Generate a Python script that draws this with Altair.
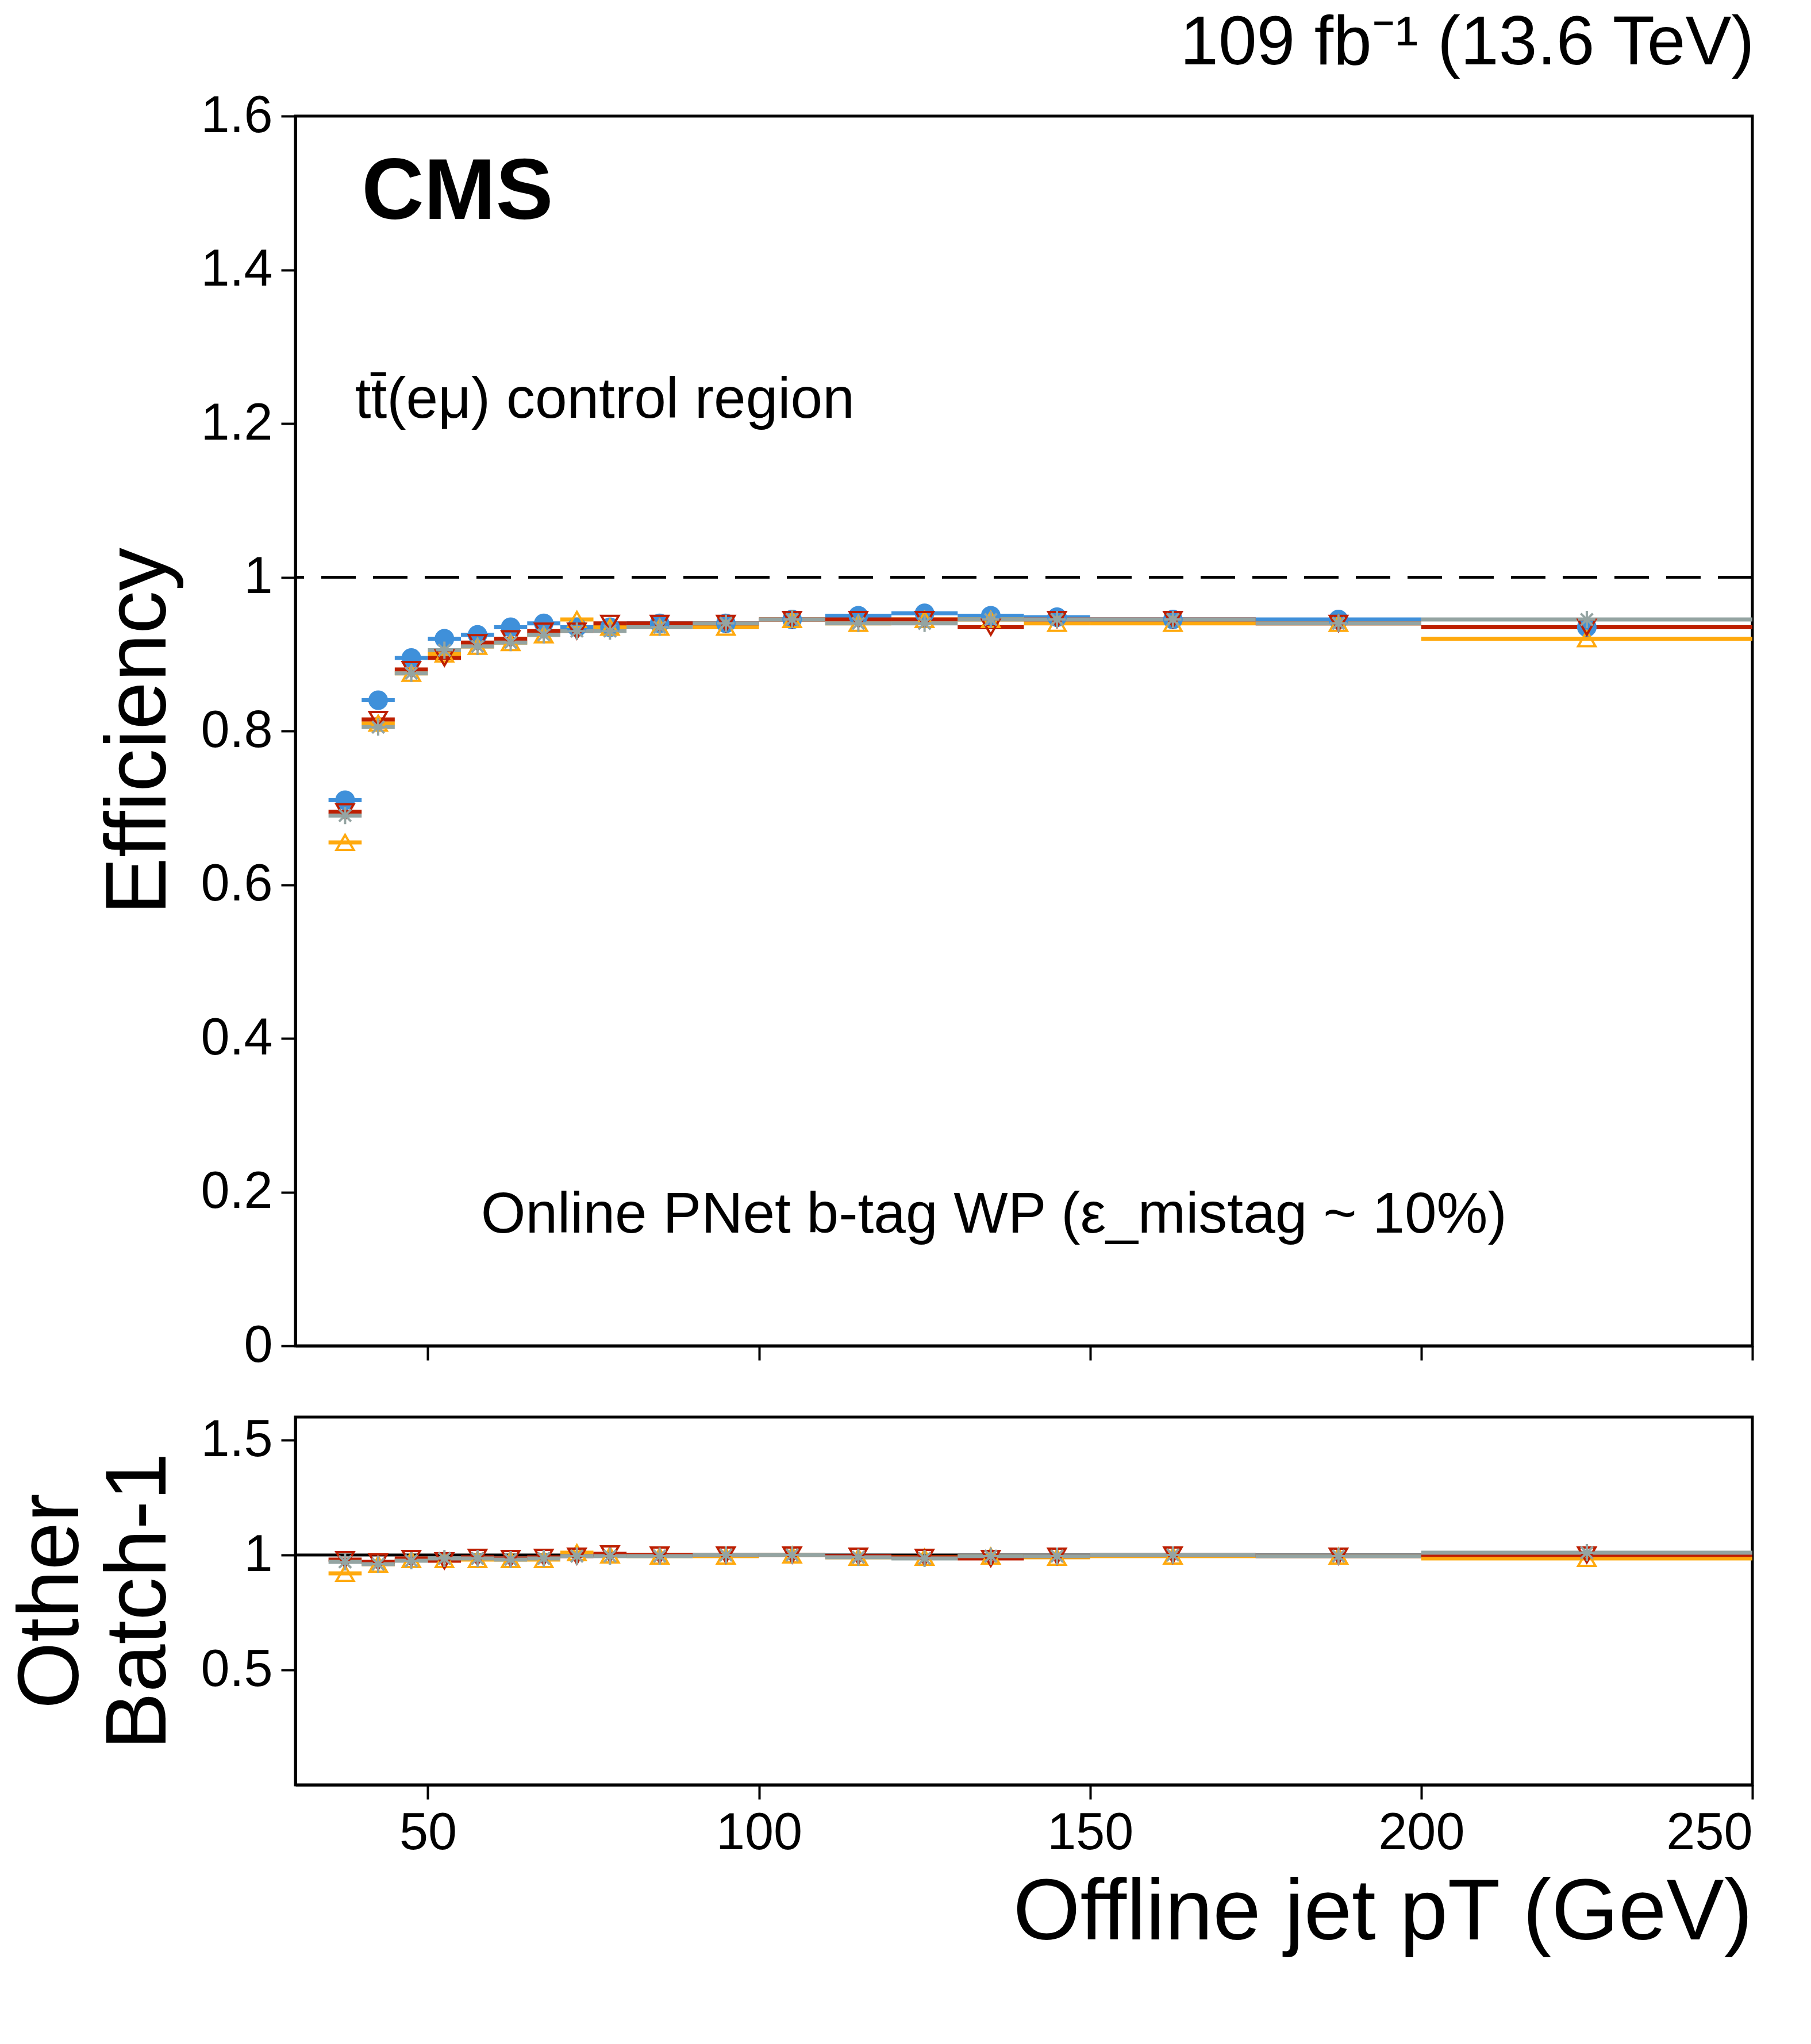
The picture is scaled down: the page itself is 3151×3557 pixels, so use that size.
import pandas as pd
import altair as alt

# pT bins (GeV)
bin_lo = [35, 40, 45, 50, 55, 60, 65, 70, 75, 80, 90, 100, 110, 120, 130, 140, 150, 175, 200]
bin_hi = [40, 45, 50, 55, 60, 65, 70, 75, 80, 90, 100, 110, 120, 130, 140, 150, 175, 200, 250]
bin_mid = [37.5, 42.5, 47.5, 52.5, 57.5, 62.5, 67.5, 72.5, 77.5, 85, 95, 105, 115, 125, 135, 145, 162.5, 187.5, 225]

eff_b1 = [0.71, 0.84, 0.895, 0.92, 0.925, 0.935, 0.94, 0.935, 0.935, 0.94, 0.94, 0.945, 0.95, 0.953, 0.95, 0.948, 0.945, 0.945, 0.935]
eff_b2 = [0.655, 0.81, 0.875, 0.90, 0.91, 0.915, 0.925, 0.945, 0.935, 0.935, 0.935, 0.945, 0.94, 0.945, 0.945, 0.94, 0.94, 0.94, 0.92]
eff_b3 = [0.695, 0.815, 0.88, 0.895, 0.915, 0.92, 0.93, 0.93, 0.94, 0.94, 0.94, 0.945, 0.945, 0.945, 0.935, 0.945, 0.945, 0.94, 0.935]
eff_b4 = [0.69, 0.805, 0.875, 0.905, 0.91, 0.915, 0.925, 0.93, 0.93, 0.935, 0.94, 0.945, 0.94, 0.94, 0.945, 0.945, 0.945, 0.94, 0.945]

ratio_b2 = [0.92, 0.96, 0.98, 0.98, 0.98, 0.98, 0.98, 1.01, 1.0, 0.995, 0.995, 1.0, 0.99, 0.99, 0.995, 0.99, 0.995, 0.995, 0.985]
ratio_b3 = [0.98, 0.97, 0.985, 0.975, 0.99, 0.985, 0.99, 0.995, 1.005, 1.0, 1.0, 1.0, 0.995, 0.99, 0.985, 0.995, 1.0, 0.995, 1.0]
ratio_b4 = [0.97, 0.96, 0.975, 0.985, 0.985, 0.98, 0.985, 0.995, 0.995, 0.995, 1.0, 1.0, 0.99, 0.985, 0.995, 0.995, 1.0, 0.995, 1.01]

batches = ["Batch-1 (26.5 fb⁻¹)", "Batch-2 (27.8 fb⁻¹)", "Batch-3 (26.0 fb⁻¹)", "Batch-4 (26.9 fb⁻¹)"]
colors = ["#3f90da", "#ffa90e", "#bd1f01", "#94a4a2"]
fills = ["#3f90da", "transparent", "transparent", "transparent"]
asterisk = "M-1,0L1,0M0,-1L0,1M-0.7,-0.7L0.7,0.7M-0.7,0.7L0.7,-0.7"
shapes = ["circle", "triangle-up", "triangle-down", asterisk]

FONT = "Liberation Sans"


def frame(series):
    rows = []
    for name, vals in series:
        for lo, hi, mid, v in zip(bin_lo, bin_hi, bin_mid, vals):
            rows.append({"batch": name, "lo": lo, "hi": hi, "mid": mid, "val": v})
    return pd.DataFrame(rows)


eff = frame(zip(batches, [eff_b1, eff_b2, eff_b3, eff_b4]))
ratio = frame(zip(batches[1:], [ratio_b2, ratio_b3, ratio_b4]))

color_scale = alt.Scale(domain=batches, range=colors)
fill_scale = alt.Scale(domain=batches, range=fills)
shape_scale = alt.Scale(domain=batches, range=shapes)
xscale = alt.Scale(domain=[30, 250], nice=False)


def panel(df, ydomain, yvals, ytitle, height, xaxis, legend, ref_dash):
    base = alt.Chart(df)
    steps = base.mark_rule(strokeWidth=7).encode(
        x=alt.X("lo:Q", scale=xscale, axis=xaxis),
        x2="hi:Q",
        y=alt.Y("val:Q", scale=alt.Scale(domain=ydomain, nice=False),
                axis=alt.Axis(values=yvals, format="~g", title=ytitle, titlePadding=30)),
        color=alt.Color("batch:N", scale=color_scale, legend=None),
    )
    pts = base.mark_point(size=900, strokeWidth=4, opacity=1).encode(
        x="mid:Q",
        y="val:Q",
        color=alt.Color("batch:N", scale=color_scale, legend=legend),
        fill=alt.Fill("batch:N", scale=fill_scale, legend=legend),
        shape=alt.Shape("batch:N", scale=shape_scale, legend=legend),
    )
    ref = alt.Chart(pd.DataFrame({"y": [1.0]})).mark_rule(
        color="black", strokeWidth=5, strokeDash=ref_dash).encode(y="y:Q")
    return (ref + steps + pts).properties(width=2535, height=height)


leg = alt.Legend(title=None, orient="none", legendX=1300, legendY=60, labelFontSize=100,
                 labelFont=FONT, symbolSize=1600, symbolStrokeWidth=5, rowPadding=40,
                 labelColor="black", labelLimit=2000)

main = panel(eff, [0, 1.6], [0, 0.2, 0.4, 0.6, 0.8, 1, 1.2, 1.4, 1.6], "Efficiency", 2140,
             alt.Axis(labels=False, title=None, values=[50, 100, 150, 200, 250]), leg, [60, 30])


def label(x, y, t, size, weight="normal"):
    return alt.Chart(pd.DataFrame({"x": [x], "y": [y], "t": [t]})).mark_text(
        align="left", font=FONT, color="black", fontSize=size, fontWeight=weight
    ).encode(x=alt.X("x:Q", scale=xscale), y="y:Q", text="t:N")


ann = (label(40, 1.5, "CMS", 150, "bold")
       + label(39, 1.23, "tt̄(eμ) control region", 100)
       + label(58, 0.17, "Online PNet b-tag WP (ε_mistag ~ 10%)", 100))

main = (main + ann).properties(
    title=alt.Title("109 fb⁻¹ (13.6 TeV)", anchor="end", fontSize=120, font=FONT,
                    fontWeight="normal", offset=20))

low = panel(ratio, [0.4, 1.6], [0.5, 1, 1.5], ["Other", "Batch-1"], 640,
            alt.Axis(values=[50, 100, 150, 200, 250], title="Offline jet pT (GeV)",
                     titleAnchor="end", titleFontSize=150, titlePadding=20), None, [1, 0])

chart = alt.vconcat(main, low, spacing=68).resolve_scale(
    color="independent", fill="independent", shape="independent"
).configure_axis(
    labelFont=FONT, titleFont=FONT, labelFontSize=90, titleFontSize=150,
    titleFontWeight="normal", labelColor="black", titleColor="black",
    domainColor="black", tickColor="black", tickSize=25, tickWidth=4, domainWidth=5,
    grid=False, labelPadding=15,
).configure_view(stroke="black", strokeWidth=5).properties(background="white")

chart.save("out.html", embed_options={"renderer": "svg", "actions": False})
